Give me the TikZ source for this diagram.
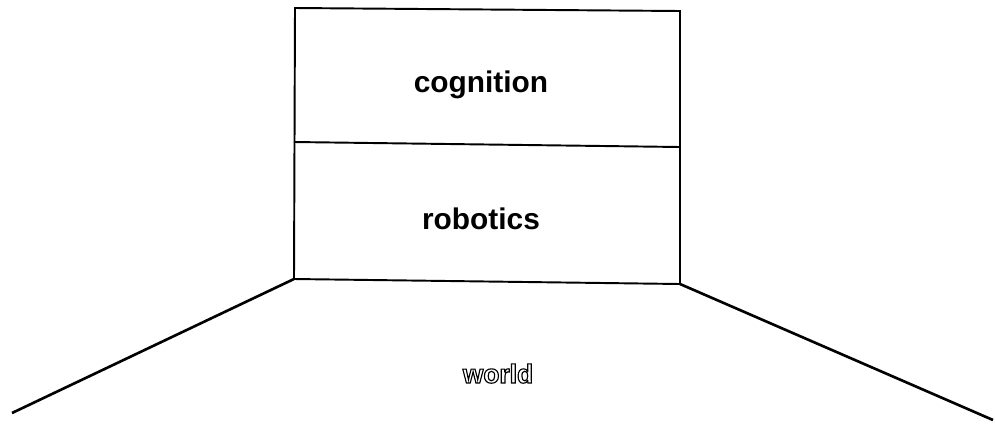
\documentclass[tikz,border=0pt]{standalone}
\usepackage{fontspec}
\setmainfont{Liberation Sans}

% hollow letters: fill white, stroke black
\newcommand{\hollowtext}[1]{{\color{white}\special{pdf:code 2 Tr 0 G 0.65 w}#1\special{pdf:code 0 Tr}}}

\begin{document}
\begin{tikzpicture}[x=0.02cm,y=-0.02cm]
%\draw [help lines] (0,0) grid (995,424);
\useasboundingbox (0,0) rectangle (995,424);

% corners of the two stacked layers
\coordinate (tl) at (295,8);
\coordinate (tr) at (680,11);
\coordinate (ml) at (294,142);
\coordinate (mr) at (680,147);
\coordinate (bl) at (294,279);
\coordinate (br) at (680,284);

% far ends of the floor
\coordinate (fl) at (12,413);
\coordinate (fr) at (993,420);

\draw [line width=1.1pt] (tl) -- (tr) -- (br) -- (bl) -- cycle;
\draw [line width=1.1pt] (ml) -- (mr);

\draw [line width=1.5pt] (bl) -- (fl);
\draw [line width=1.5pt] (br) -- (fr);

\node [anchor=base] (cog) at (481,92) {\fontsize{17}{20}\selectfont\bfseries cognition};
\node [anchor=base] (rob) at (481,229) {\fontsize{17}{20}\selectfont\bfseries robotics};
\node [anchor=base] (wld) at (498,383) {\fontsize{15}{18}\selectfont\bfseries\hollowtext{world}};

\end{tikzpicture}
\end{document}
